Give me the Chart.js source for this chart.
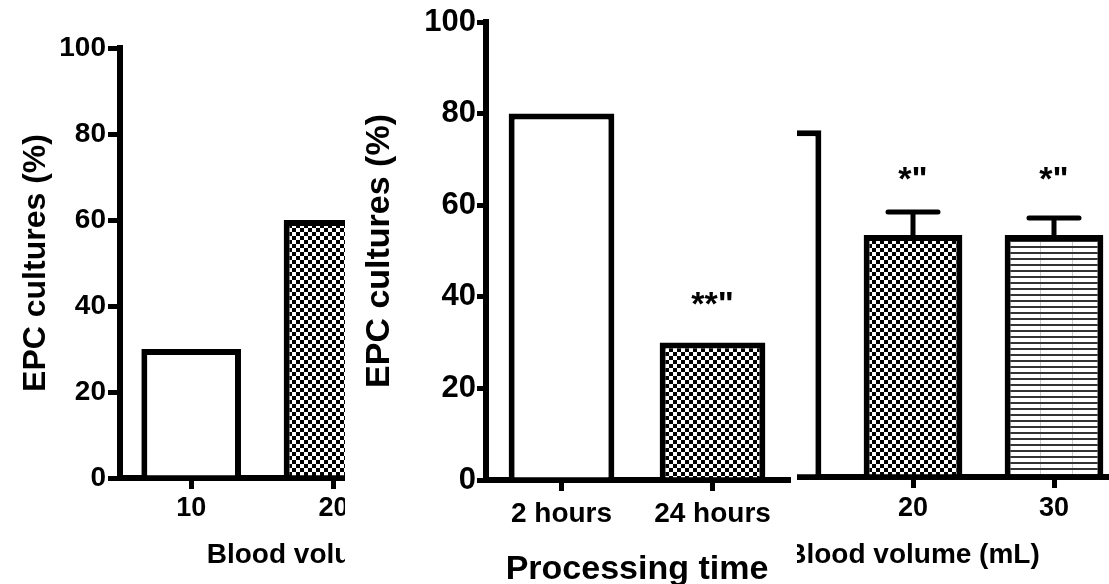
<!DOCTYPE html>
<html><head><meta charset="utf-8">
<script src="https://cdn.jsdelivr.net/npm/chart.js@4.4.1/dist/chart.umd.min.js"></script>
<style>
html,body{margin:0;padding:0;background:#fff;width:1109px;height:584px;overflow:hidden;}
.panel{position:absolute;top:0;height:584px;overflow:hidden;background:#fff;}
.panel canvas{position:absolute;top:0;}
</style></head><body>
<div class="panel" style="left:0;width:345px;z-index:1"><canvas id="c1" width="560" height="584" style="left:0"></canvas></div>
<div class="panel" style="left:797px;width:312px;z-index:1"><canvas id="c3" width="575" height="584" style="left:-237px"></canvas></div>
<div class="panel" style="left:345px;width:452px;z-index:2"><canvas id="c2" width="452" height="584" style="left:0"></canvas></div>
<script>
// ---- data ----
const p1Categories = ["10", "20", "30"];
const p1Values = [30, 60, null];
const p2Categories = ["2 hours", "24 hours"];
const p2Values = [80, 30];
const p2Marks = ["", "**\""];
const p2MarkLevels = [null, 38];
const p3Categories = ["10", "20", "30"];
const p3Values = [80.8, 56.4, 56.4];
const p3Errors = [0, 5.4, 4.0];
const p3Marks = ["", "*\"", "*\""];
const p3MarkLevels = [null, 69, 69];
const yTickStep = 20;
const yMax = 100;
const yTitleText = "EPC cultures (%)";
const volumeTitle = "Blood volume (mL)";
const timeTitle = "Processing time";

const FAM = "'Liberation Sans', Arial, sans-serif";
Chart.defaults.font.family = FAM;
Chart.defaults.color = '#000';

function checker(){
  const c=document.createElement('canvas'); c.width=8; c.height=8;
  const g=c.getContext('2d'); g.fillStyle='#fff'; g.fillRect(0,0,8,8);
  g.fillStyle='#000'; g.fillRect(0,0,4,4); g.fillRect(4,4,4,4);
  return g.createPattern(c,'repeat');
}
function hlines(){
  const c=document.createElement('canvas'); c.width=32; c.height=6;
  const g=c.getContext('2d'); g.fillStyle='#fff'; g.fillRect(0,0,32,6);
  g.fillStyle='#c8c8c8'; g.fillRect(0,0,1,6);
  g.fillStyle='#333'; g.fillRect(0,0,32,2);
  return g.createPattern(c,'repeat');
}

const extras = {
  id:'extras',
  afterDatasetsDraw(chart, args, o){
    const ctx=chart.ctx, meta=chart.getDatasetMeta(0), ys=chart.scales.y;
    const data=chart.data.datasets[0].data;
    ctx.save();
    ctx.strokeStyle='#000'; ctx.lineWidth=5; ctx.lineCap='round';
    (o.errors||[]).forEach((e,i)=>{
      if(!e) return;
      const b=meta.data[i];
      const y0=ys.getPixelForValue(data[i])+3, y1=ys.getPixelForValue(data[i]+e);
      ctx.beginPath(); ctx.moveTo(b.x,y0); ctx.lineTo(b.x,y1);
      ctx.moveTo(b.x-o.cap,y1); ctx.lineTo(b.x+o.cap,y1); ctx.stroke();
    });
    ctx.fillStyle='#000'; ctx.font='bold '+o.markSize+'px '+FAM;
    ctx.textAlign='center'; ctx.textBaseline='middle';
    (o.marks||[]).forEach((m,i)=>{
      if(!m) return;
      ctx.fillText(m, meta.data[i].x, ys.getPixelForValue(o.levels[i]));
    });
    ctx.restore();
  }
};

function make(id, cfg){
  return new Chart(document.getElementById(id), {
    type:'bar',
    data:{labels:cfg.labels, datasets:[{data:cfg.values, backgroundColor:cfg.fills,
      borderColor:'#000', borderWidth:6, barPercentage:0.7, categoryPercentage:1}]},
    options:{
      responsive:false, animation:false, devicePixelRatio:1,
      layout:{padding:{left:0, right:cfg.pr, top:cfg.top, bottom:0}},
      plugins:{legend:{display:false}, tooltip:{enabled:false},
        extras:{errors:cfg.errors||[], marks:cfg.marks||[], levels:cfg.levels||[], cap:25, markSize:cfg.markSize||34}},
      scales:{
        x:{
          grid:{display:true, drawOnChartArea:false, drawTicks:true, tickLength:11, lineWidth:5, color:'#000', offset:false},
          border:{display:true, width:6, color:'#000'},
          ticks:{font:{size:cfg.xtSize, weight:'bold'}, color:'#000', padding:cfg.xtPad, maxRotation:0},
          title:{display:true, text:cfg.xTitle, font:{size:cfg.xTitleSize, weight:'bold'}, color:'#000', padding:{top:0,bottom:cfg.xTitlePad}},
          afterFit:(s)=>{ s.height = cfg.xh; }
        },
        y:{
          min:0, max:yMax,
          grid:{display:true, drawOnChartArea:false, drawTicks:true, tickLength:cfg.ytl, lineWidth:5, color:'#000'},
          border:{display:true, width:6, color:'#000'},
          ticks:{stepSize:yTickStep, font:{size:cfg.ytSize, weight:'bold'}, color:'#000', padding:cfg.ytPad},
          title:{display:true, text:yTitleText, font:{size:cfg.yTitleSize, weight:'bold'}, color:'#000', padding:{top:cfg.yTitlePad,bottom:0}},
          afterFit:(s)=>{ s.width = cfg.yw; }
        }
      }
    },
    plugins:[extras]
  });
}

const CHK = checker(), HL = hlines();

make('c1', {labels:p1Categories, values:p1Values, fills:['#fff', CHK, '#fff'],
  pr:13, top:48, xh:106, yw:120, ytl:12, ytPad:2, ytSize:28, xtSize:27, xtPad:3,
  xTitle:volumeTitle, xTitleSize:28, xTitlePad:12, yTitleSize:32, yTitlePad:17});

make('c2', {labels:p2Categories, values:p2Values, fills:['#fff', CHK],
  marks:p2Marks, levels:p2MarkLevels, markSize:34,
  pr:9, top:22, xh:104, yw:141, ytl:9, ytPad:1, ytSize:31, xtSize:28, xtPad:6,
  xTitle:timeTitle, xTitleSize:34, xTitlePad:-6, yTitleSize:34, yTitlePad:14});

make('c3', {labels:p3Categories, values:p3Values, fills:['#fff', CHK, HL],
  errors:p3Errors, marks:p3Marks, levels:p3MarkLevels, markSize:34,
  pr:10.5, top:48, xh:107, yw:141.5, ytl:12, ytPad:2, ytSize:28, xtSize:27, xtPad:4,
  xTitle:volumeTitle, xTitleSize:28, xTitlePad:12, yTitleSize:32, yTitlePad:17});
</script>
</body></html>
